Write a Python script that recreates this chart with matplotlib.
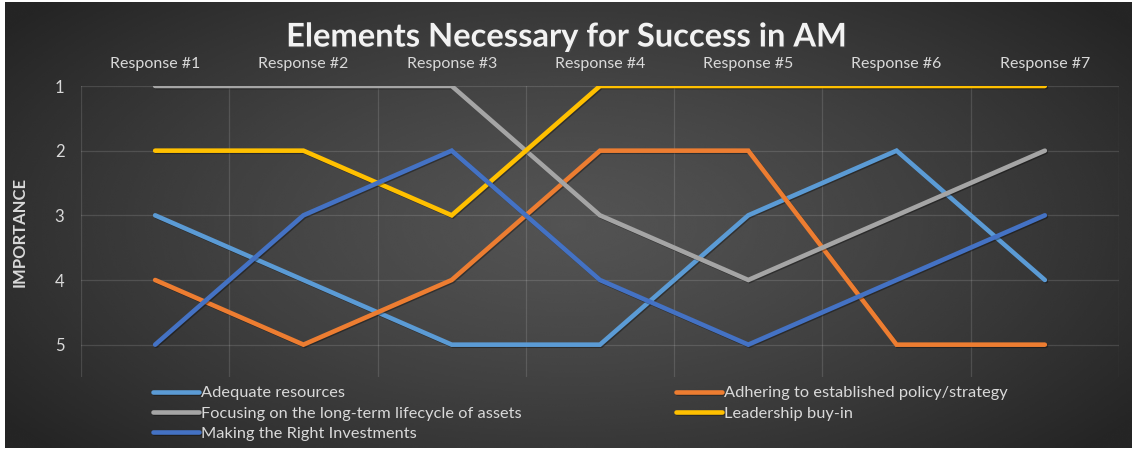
import numpy as np
import matplotlib.pyplot as plt
import matplotlib.patheffects as pe

# --- data ---
responses = ['Response #1', 'Response #2', 'Response #3', 'Response #4',
             'Response #5', 'Response #6', 'Response #7']
adequate = [3, 4, 5, 5, 3, 2, 4]
adhering = [4, 5, 4, 2, 2, 5, 5]
focusing = [1, 1, 1, 3, 4, 3, 2]
leadership = [2, 2, 3, 1, 1, 1, 1]
investments = [5, 3, 2, 4, 5, 4, 3]
y_ticks = [1, 2, 3, 4, 5]

series = [
    ('Adequate resources', adequate, '#5B9BD5'),
    ('Adhering to established policy/strategy', adhering, '#ED7D31'),
    ('Focusing on the long-term lifecycle of assets', focusing, '#A5A5A5'),
    ('Leadership buy-in', leadership, '#FFC000'),
    ('Making the Right Investments', investments, '#4472C4'),
]

plt.rcParams['font.family'] = ['Lato', 'DejaVu Sans']
text_color = '#d9d9d9'
W, H = 1132, 450

fig = plt.figure(figsize=(W / 100, H / 100), dpi=100)
fig.patch.set_facecolor('white')

# background with radial gradient
bg = fig.add_axes([5 / W, 2 / H, 1 - 5 / W, 1 - 4 / H])
bg.set_axis_off()
yy, xx = np.mgrid[0:1:300j, 0:1:600j]
r = np.sqrt(((xx - 0.5) / 0.62) ** 2 + ((yy - 0.5) / 0.75) ** 2)
r = np.clip(r, 0, 1)
lo, hi = 0x25 / 255, 0x53 / 255
grad = hi - (hi - lo) * r ** 1.3
bg.imshow(grad, cmap='gray', vmin=0, vmax=1, aspect='auto',
          extent=[0, 1, 0, 1], interpolation='bicubic')
bg.set_xlim(0, 1)
bg.set_ylim(0, 1)

# plot area: top edge at y=86 px, bottom at y=377 px
ax = fig.add_axes([81 / W, 73 / H, (1119 - 81) / W, (377 - 86) / H])
ax.set_facecolor('none')

x = np.arange(len(responses))
handles = {}
for name, vals, color in series:
    ln, = ax.plot(x, vals, color=color, linewidth=3.3, solid_capstyle='round',
                  solid_joinstyle='miter', label=name, zorder=3,
                  path_effects=[pe.SimpleLineShadow(offset=(0.8, -0.8), alpha=0.35),
                                pe.Normal()])
    handles[name] = ln

ax.set_xlim(-0.5, len(responses) - 0.5)
ax.set_ylim(5.5, 1)
ax.set_yticks(y_ticks)
ax.set_yticklabels([str(v) for v in y_ticks])
ax.set_xticks(x)
ax.set_xticklabels(responses)
ax.xaxis.tick_top()
ax.tick_params(axis='x', length=0, pad=11, labelsize=11.5, colors=text_color)
ax.tick_params(axis='y', length=0, pad=12, labelsize=12, colors=text_color)

# gridlines
for yv in y_ticks:
    ax.axhline(yv, color='white', alpha=0.13, linewidth=0.9, zorder=1)
for xv in np.arange(-0.5, len(responses), 1.0):
    ax.axvline(xv, color='white', alpha=0.13, linewidth=0.9, zorder=1)
for s in ax.spines.values():
    s.set_visible(False)

ax.set_ylabel('IMPORTANCE', color=text_color, fontsize=12, fontweight='bold')
ax.yaxis.set_label_coords((28 - 81) / (1119 - 81), 0.5)

fig.text(0.5, 1 - 37 / H, 'Elements Necessary for Success in AM', ha='center',
         va='center', color='#f2f2f2', fontsize=23.5, fontweight='bold',
         path_effects=[pe.withSimplePatchShadow(offset=(1, -1), alpha=0.5)])

# legend in two columns
col1 = [series[0][0], series[2][0], series[4][0]]
col2 = [series[1][0], series[3][0]]
for names, xpos in [(col1, 153 / W), (col2, 676 / W)]:
    leg = fig.legend([handles[n] for n in names], names, loc='upper left',
                     bbox_to_anchor=(xpos, 1 - 386 / H), frameon=False,
                     handlelength=2.8, handletextpad=0.1, labelspacing=0.35,
                     fontsize=11.8, borderaxespad=0, borderpad=0)
    for t in leg.get_texts():
        t.set_color(text_color)

fig.savefig('out.png', dpi=100)
